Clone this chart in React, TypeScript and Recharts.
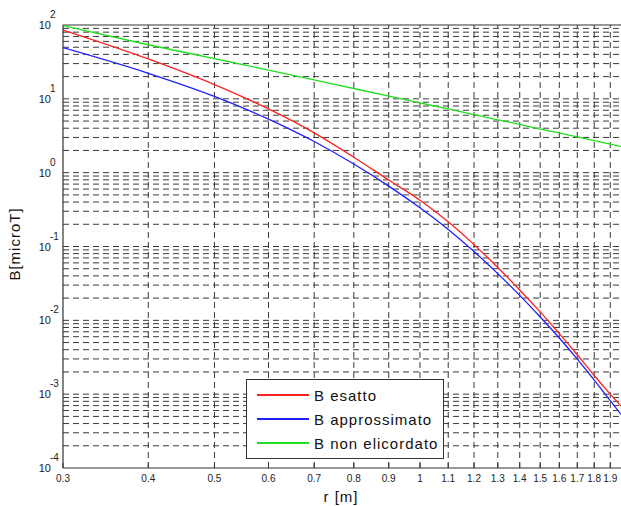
import React from 'react'
import { LineChart, Line, XAxis, YAxis, ReferenceLine } from 'recharts'

const rValues = [0.3, 0.4, 0.5, 0.6, 0.7, 0.8, 0.9, 1.0, 1.1, 1.2, 1.3, 1.4, 1.5, 1.6, 1.7, 1.8, 1.9, 1.97]
const bEsatto = [85.5, 34.7, 15.6, 7.3, 3.46, 1.62, 0.794, 0.424, 0.216, 0.106, 0.0519, 0.0258, 0.013, 0.00662, 0.00342, 0.00179, 0.001, 0.000688]
const bApprossimato = [49.3, 22.2, 10.8, 5.32, 2.64, 1.31, 0.658, 0.334, 0.17, 0.0855, 0.0429, 0.0218, 0.0111, 0.00576, 0.00298, 0.00155, 0.000816, 0.000531]
const bNonElicordato = [98, 54, 35, 24.5, 18, 13.8, 10.9, 8.8, 7.3, 6.1, 5.2, 4.5, 3.9, 3.45, 3.05, 2.72, 2.44, 2.27]

const xTicks = [0.3, 0.4, 0.5, 0.6, 0.7, 0.8, 0.9, 1, 1.1, 1.2, 1.3, 1.4, 1.5, 1.6, 1.7, 1.8, 1.9]
const xTickLabels = ['0.3', '0.4', '0.5', '0.6', '0.7', '0.8', '0.9', '1', '1.1', '1.2', '1.3', '1.4', '1.5', '1.6', '1.7', '1.8', '1.9']
const yTicks = [1e-4, 1e-3, 1e-2, 1e-1, 1, 10, 100]
const yExponents = ['-4', '-3', '-2', '-1', '0', '1', '2']

const data = rValues.map((r, i) => ({
  r,
  esatto: bEsatto[i],
  approssimato: bApprossimato[i],
  nonElicordato: bNonElicordato[i],
}))

// log grid: every 1..9 x 10^k inside the axis range
const yGrid: number[] = []
for (let k = -4; k < 2; k++) {
  for (let m = 1; m <= 9; m++) {
    if (m === 1 && k === -4) continue
    yGrid.push(m * Math.pow(10, k))
  }
}
const xGrid = xTicks.slice(1)

const FONT = '"Liberation Sans", Arial, sans-serif'
const GRID = '#3a3a3a'
const AXIS = '#333'

function XTick({ x, y, payload, index }: any) {
  return (
    <g>
      <line x1={x} x2={x} y1={y} y2={y - 5} stroke={AXIS} />
      <text x={x} y={y + 10} textAnchor="middle" dominantBaseline="central" fontSize={10} fill="#222" fontFamily={FONT}>
        {xTickLabels[index] ?? payload.value}
      </text>
    </g>
  )
}

function YTick({ x, y, index }: any) {
  return (
    <g>
      <text x={x - 12} y={y} textAnchor="end" dominantBaseline="central" fontSize={11} fill="#222" fontFamily={FONT}>
        10
      </text>
      <text x={x - 13} y={y - 10.5} textAnchor="start" dominantBaseline="central" fontSize={10} fill="#222" fontFamily={FONT}>
        {yExponents[index]}
      </text>
    </g>
  )
}

const legendItems = [
  { label: 'B esatto', color: '#ff2020' },
  { label: 'B approssimato', color: '#2020ff' },
  { label: 'B non elicordato', color: '#20e020' },
]

export default function App() {
  return (
    <div style={{ position: 'absolute', left: 0, top: 0, width: 621, height: 506, background: '#fff', fontFamily: FONT }}>
      <LineChart width={621} height={506} data={data} margin={{ top: 25, right: 0, bottom: 0, left: 0 }}>
        <XAxis
          dataKey="r"
          type="number"
          scale="log"
          domain={[0.3, 1.97]}
          ticks={xTicks}
          allowDataOverflow
          height={38}
          tickSize={0}
          tickMargin={0}
          tickLine={false}
          axisLine={{ stroke: AXIS, strokeWidth: 1.2 }}
          tick={<XTick />}
          interval={0}
        />
        <YAxis
          type="number"
          scale="log"
          domain={[1e-4, 100]}
          ticks={yTicks}
          allowDataOverflow
          width={63}
          tickSize={0}
          tickMargin={0}
          tickLine={false}
          axisLine={{ stroke: AXIS, strokeWidth: 1.2 }}
          tick={<YTick />}
          interval={0}
        />
        {yGrid.map(v => (
          <ReferenceLine key={'y' + v} y={v} stroke={GRID} strokeDasharray="6 4" strokeWidth={1} />
        ))}
        {xGrid.map(v => (
          <ReferenceLine key={'x' + v} x={v} stroke={GRID} strokeDasharray="6 4" strokeWidth={1} />
        ))}
        <ReferenceLine y={100} stroke={AXIS} strokeWidth={1.2} />
        <Line type="monotone" dataKey="nonElicordato" stroke="#20e020" strokeWidth={1.3} dot={false} isAnimationActive={false} />
        <Line type="monotone" dataKey="esatto" stroke="#ff2020" strokeWidth={1.3} dot={false} isAnimationActive={false} />
        <Line type="monotone" dataKey="approssimato" stroke="#2020ff" strokeWidth={1.3} dot={false} isAnimationActive={false} />
      </LineChart>

      <div
        style={{
          position: 'absolute',
          left: 15 - 40,
          top: 244,
          width: 80,
          transform: 'rotate(-90deg)',
          fontSize: 15,
          letterSpacing: 1,
          color: '#111',
          whiteSpace: 'nowrap',
          lineHeight: '16px',
          marginTop: -8,
          display: 'flex',
          justifyContent: 'center',
        }}
      >
        B[microT]
      </div>
      <div
        style={{
          position: 'absolute',
          left: 341 - 40,
          top: 489,
          width: 80,
          textAlign: 'center',
          fontSize: 15,
          letterSpacing: 1,
          color: '#111',
          lineHeight: '16px',
        }}
      >
        r [m]
      </div>

      <div
        style={{
          position: 'absolute',
          left: 246,
          top: 379,
          width: 196,
          height: 78,
          background: '#fff',
          border: '1px solid #333',
        }}
      >
        {legendItems.map((item, i) => (
          <div
            key={item.label}
            style={{ position: 'absolute', left: 10, top: 5 + i * 24, height: 20, display: 'flex', alignItems: 'center' }}
          >
            <div style={{ width: 52, height: 2, background: item.color }} />
            <span style={{ marginLeft: 5, fontSize: 15, letterSpacing: 1, color: '#111', whiteSpace: 'nowrap' }}>{item.label}</span>
          </div>
        ))}
      </div>
    </div>
  )
}
